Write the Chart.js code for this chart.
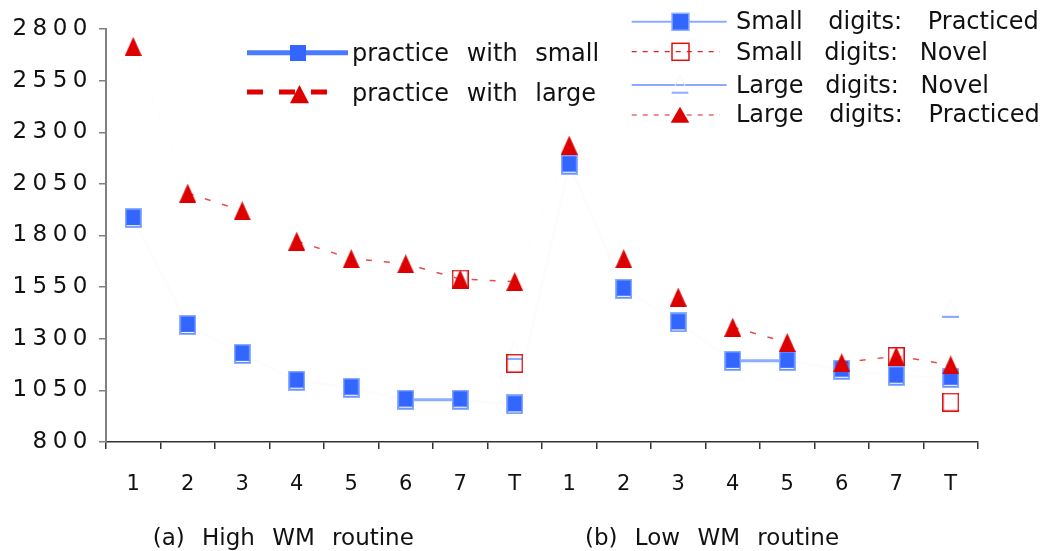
<!DOCTYPE html>
<html>
<head>
<meta charset="utf-8">
<script src="https://cdn.jsdelivr.net/npm/chart.js@4"></script>
<style>
  html, body { margin: 0; padding: 0; background: #ffffff; }
  #wrap { position: relative; width: 1042px; height: 551px; overflow: hidden; background: #ffffff; }
  #chart { position: absolute; left: 0; top: 0; }
  #overlay { position: absolute; left: 0; top: 0; pointer-events: none; }
  .txt { position: absolute; font-family: "DejaVu Sans", sans-serif; color: #111111;
         white-space: pre; line-height: 24px; font-size: 24px; }
  .lg1 { word-spacing: 10px; }
  .lg2a { word-spacing: 18px; }
  .lg2b { word-spacing: 14px; }
  .cap { font-size: 23px; line-height: 23px; word-spacing: 10px; }
</style>
</head>
<body>
<div id="wrap">
  <canvas id="chart" width="1042" height="551"></canvas>
  <svg id="overlay" width="1042" height="551" xmlns="http://www.w3.org/2000/svg">
    <!-- legend 1 -->
    <line x1="247" y1="52.7" x2="348" y2="52.7" stroke="#4a7bff" stroke-width="5"/>
    <rect x="290" y="45" width="16" height="16" fill="#3366ff"/>
    <line x1="247" y1="92" x2="327" y2="92" stroke="#dd0000" stroke-width="5" stroke-dasharray="16 16"/>
    <polygon points="299.5,85 290,103.3 309,103.3" fill="#dd0000"/>
    <!-- legend 2 -->
    <line x1="631.7" y1="21.7" x2="726.7" y2="21.7" stroke="#8eaaff" stroke-width="2"/>
    <rect x="672" y="13.3" width="17" height="17" fill="#3366ff" stroke="#8fb0ff" stroke-width="1.5"/>
    <line x1="631.7" y1="51.7" x2="720" y2="51.7" stroke="#e02020" stroke-width="1.2" stroke-dasharray="5 6"/>
    <rect x="672" y="43.3" width="17" height="17" fill="none" stroke="#dd1111" stroke-width="1.5"/>
    <line x1="631.7" y1="85" x2="726.7" y2="85" stroke="#8eaaff" stroke-width="2"/>
    <polygon points="680,75 671.7,92.7 688.3,92.7" fill="none" stroke="#f6f6f8" stroke-width="1"/>
    <line x1="671.7" y1="92.7" x2="688.3" y2="92.7" stroke="#8eaaff" stroke-width="2"/>
    <line x1="631.7" y1="115" x2="720" y2="115" stroke="#e02020" stroke-width="1.2" stroke-dasharray="5 6"/>
    <polygon points="680,106.7 670.7,122.7 689.3,122.7" fill="#dd0000"/>
  </svg>
  <div class="txt lg1" style="left:352px; top:41.4px;">practice with small</div>
  <div class="txt lg1" style="left:352px; top:81.4px;">practice with large</div>
  <div class="txt lg2a" style="left:736px; top:8.7px;">Small digits: Practiced</div>
  <div class="txt lg2b" style="left:736px; top:39.7px;">Small digits: Novel</div>
  <div class="txt lg2b" style="left:736px; top:73px;">Large digits: Novel</div>
  <div class="txt lg2a" style="left:736px; top:102.4px;">Large digits: Practiced</div>
  <div class="txt cap" style="left:152.7px; top:525.5px;">(a) High WM routine</div>
  <div class="txt cap" style="left:585px; top:525.5px;">(b) Low WM routine</div>
</div>
<script>
// ---- data ----
const categories = ['1','2','3','4','5','6','7','T','1','2','3','4','5','6','7','T'];
const smallPracticed = [1884, 1367, 1227, 1097, 1063, 1005, 1005, 982,
                        2143, 1542, 1379, 1193, 1193, 1150, 1121, 1111];
const largePracticed = [2716, 2005, 1920, 1773, 1688, 1663, 1589, 1577,
                        2238, 1688, 1502, 1356, 1282, 1184, 1216, 1173];
const smallNovel = [null, null, null, null, null, null, 1589, 1181,
                    null, null, null, null, null, null, 1214, 993];
const largeNovel = [null, null, null, null, null, null, null, 1244,
                    null, null, null, null, null, null, null, 1448];
const yMin = 800, yMax = 2800, yStep = 250;

// ---- marker images ----
function mk(w, h, draw) { const c = document.createElement('canvas'); c.width = w; c.height = h; draw(c.getContext('2d'), w, h); return c; }
const blueSquare = mk(17, 20, (g, w, h) => {
  g.fillStyle = '#8fb0ff'; g.fillRect(0, 0, w, h);
  g.fillStyle = '#3366ff'; g.fillRect(1.5, 1.5, w - 3, h - 3);
  g.fillStyle = '#ffffff'; g.fillRect(2, h - 3, w - 4, 1);
});
const redTriangle = mk(17, 19, (g, w, h) => {
  g.fillStyle = '#dd0000'; g.beginPath(); g.moveTo(w / 2, 0); g.lineTo(w, h); g.lineTo(0, h); g.closePath(); g.fill();
});
const redOpenSquare = mk(17, 19, (g, w, h) => {
  g.strokeStyle = '#dd1111'; g.lineWidth = 1.5; g.strokeRect(0.75, 0.75, w - 1.5, h - 1.5);
});
const novelTriangle = mk(17, 19, (g, w, h) => {
  g.strokeStyle = 'rgba(0,0,0,0.03)'; g.lineWidth = 1;
  g.beginPath(); g.moveTo(w / 2, 0.5); g.lineTo(w - 0.5, h - 1); g.lineTo(0.5, h - 1); g.closePath(); g.stroke();
  g.strokeStyle = '#8eaaff'; g.lineWidth = 2; g.beginPath(); g.moveTo(0, h - 1); g.lineTo(w, h - 1); g.stroke();
});

// segments: only nearly flat segments are visible, as in the reference
function flat(ctx, th) {
  const dx = Math.abs(ctx.p1.x - ctx.p0.x), dy = Math.abs(ctx.p1.y - ctx.p0.y);
  return dx > 0 && dy / dx < th;
}
const faint = 'rgba(0,0,0,0.012)';

const yLetterSpacing = {
  id: 'yLetterSpacing',
  beforeDraw(chart) {
    const s = chart.scales.y;
    if (s && !s._lsWrapped) {
      const orig = s.drawLabels.bind(s);
      s.drawLabels = function (area) { const c = this.ctx; c.save(); c.letterSpacing = '5.5px'; orig(area); c.restore(); };
      s._lsWrapped = true;
    }
  }
};

new Chart(document.getElementById('chart'), {
  type: 'line',
  data: {
    labels: categories,
    datasets: [
      { label: 'Large digits: Practiced', data: largePracticed, order: 0,
        borderColor: 'rgba(221,0,0,0.75)', borderWidth: 1.5, borderDash: [6, 12],
        pointStyle: redTriangle, pointRadius: 10,
        segment: { borderColor: c => flat(c, 0.35) ? 'rgba(221,0,0,0.7)' : faint } },
      { label: 'Small digits: Novel', data: smallNovel, order: 1,
        borderColor: 'rgba(221,0,0,0.75)', borderWidth: 1.5, borderDash: [6, 12],
        pointStyle: redOpenSquare, pointRadius: 10,
        segment: { borderColor: c => flat(c, 0.35) ? 'rgba(221,0,0,0.7)' : faint } },
      { label: 'Large digits: Novel', data: largeNovel, order: 2,
        borderColor: '#8eaaff', borderWidth: 2,
        pointStyle: novelTriangle, pointRadius: 10 },
      { label: 'Small digits: Practiced', data: smallPracticed, order: 3,
        borderColor: 'rgba(90,140,255,0.7)', borderWidth: 3,
        pointStyle: blueSquare, pointRadius: 10,
        segment: { borderColor: c => flat(c, 0.01) ? 'rgba(90,140,255,0.7)' : faint } }
    ]
  },
  options: {
    responsive: false,
    devicePixelRatio: 1,
    animation: false,
    spanGaps: false,
    layout: { padding: { left: 0, right: 64, top: 29, bottom: 0 } },
    plugins: { legend: { display: false }, tooltip: { enabled: false }, title: { display: false } },
    elements: { line: { tension: 0 } },
    scales: {
      x: {
        type: 'category', offset: true,
        grid: { offset: true, drawOnChartArea: false, drawTicks: true, tickLength: 7, color: '#333333', lineWidth: 1.5 },
        border: { display: true, color: '#333333', width: 1.5 },
        ticks: { font: { family: 'DejaVu Sans', size: 21 }, color: '#111111', padding: 23, maxRotation: 0, autoSkip: false },
        afterFit(s) { s.height = 109; }
      },
      y: {
        min: yMin, max: yMax,
        grid: { drawOnChartArea: false, drawTicks: true, tickLength: 7, color: '#808080', lineWidth: 1.5 },
        border: { display: true, color: '#808080', width: 2 },
        ticks: { stepSize: yStep, font: { family: 'DejaVu Sans', size: 23 }, color: '#111111', padding: 6,
                 callback: v => String(v) },
        afterFit(s) { s.width = 106; }
      }
    }
  },
  plugins: [yLetterSpacing]
});
</script>
</body>
</html>
